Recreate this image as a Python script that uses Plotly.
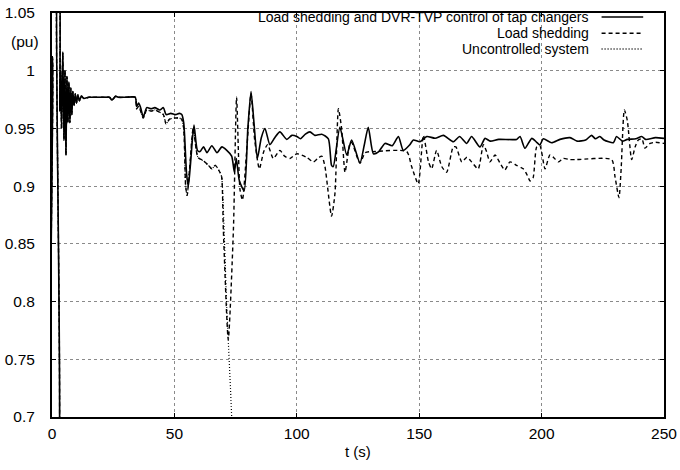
import plotly.graph_objects as go

# ---- data ----
t_early = [0, 0.15, 0.4, 1.9, 2.3, 2.8, 3.2, 3.5, 3.9, 4.4, 4.9, 5.3, 5.7, 6.1, 6.5, 6.9, 7.3,
           7.7, 8.1, 8.5, 9.0, 9.5, 10.0, 10.6, 11.2, 12, 13, 15, 18, 21, 23.5, 24.4, 25.2,
           26, 27, 30, 34.0]
v_early = [1.012, 1.012, 0.62, 0.62, 1.09, 1.09, 0.965, 1.0, 0.95, 1.016, 0.94, 1.0, 0.927,
           0.995, 0.955, 0.99, 0.955, 0.985, 0.962, 0.982, 0.97, 0.98, 0.972, 0.979, 0.974,
           0.978, 0.976, 0.977, 0.977, 0.977, 0.977, 0.9746, 0.976, 0.978, 0.977, 0.977, 0.977]

t_ctrl = [34.6, 35.4, 36.2, 37.3, 38.7, 40.5, 42, 44, 45.5, 46.6, 48.5, 50.5, 52, 53.0,
          53.8, 55, 55.7, 56.6, 58.0, 59.4, 60.5, 61.9, 63.3, 65.3, 67.4, 69.4, 71.4, 73.4,
          74.5, 75.3, 76.5, 78.5, 80, 81.3, 82.5, 83.9, 85.5, 87.0, 89.0, 91, 93.1, 95.9,
          98, 100, 101.5, 103.5, 105.4, 107.4, 110.2, 112.9, 114.2, 114.9, 117.6, 120.4,
          122.4, 125.8, 127.5, 129.2, 131.3, 133.5, 136, 139, 141.5, 143.5, 146.2, 147.6,
          150.3, 153.1, 156.5, 159.9, 164, 166.5, 169.4, 171.4, 174.8, 176.9, 179, 182.5,
          189.8, 191.2, 193.2, 196, 198, 199.3, 200.7, 204.1, 207.5, 211.6, 214.5, 218,
          220.4, 222, 223.8, 225.5, 229.3, 230.6, 233, 235, 238.5, 240.9, 242.5, 246.5, 250]
v_ctrl = [0.969, 0.972, 0.968, 0.960, 0.968, 0.967, 0.968, 0.966, 0.968, 0.962, 0.963,
          0.962, 0.963, 0.962, 0.955, 0.91, 0.900, 0.92, 0.953, 0.931, 0.93, 0.934, 0.929,
          0.935, 0.929, 0.934, 0.931, 0.926, 0.912, 0.924, 0.905, 0.896, 0.95, 0.982, 0.955,
          0.924, 0.942, 0.950, 0.936, 0.942, 0.947, 0.9405, 0.944, 0.943, 0.941, 0.945,
          0.947, 0.944, 0.945, 0.941, 0.918, 0.917, 0.951, 0.927, 0.940, 0.920, 0.935,
          0.951, 0.928, 0.930, 0.937, 0.935, 0.943, 0.931, 0.936, 0.940, 0.9385, 0.943,
          0.9415, 0.944, 0.9385, 0.943, 0.937, 0.943, 0.934, 0.9414, 0.939, 0.9405, 0.9405,
          0.943, 0.9328, 0.9414, 0.938, 0.9357, 0.941, 0.9376, 0.9405, 0.942, 0.939, 0.940,
          0.944, 0.941, 0.943, 0.940, 0.9376, 0.943, 0.939, 0.9405, 0.941, 0.943, 0.9405,
          0.942, 0.9414]

t_shed = [34.6, 35.4, 36.2, 37.3, 38.7, 40.5, 42, 44, 45.5, 46.6, 48, 50, 52, 53.0, 53.8,
          54.6, 55.2, 56.2, 57.7, 59.6, 61.8, 63.9, 65.3, 66.7, 68.6, 69.3, 70.0, 72.0, 74.1,
          75.4, 76.8, 77.8, 79.5, 81.3, 82.8, 84.7, 86.5, 88.1, 90.4, 93.1, 95, 97.2, 100,
          104, 106.8, 108.5, 110.2, 111.5, 114.2, 115.6, 117, 118.3, 119.7, 121.7, 122.4,
          125.8, 128, 131.9, 144.9, 146.9, 149.6, 151.7, 153.8, 155.1, 157.1, 159.2, 161.2,
          163.9, 165, 167.4, 169.5, 171.4, 174.1, 176.2, 177.5, 178.9, 181, 183, 185, 187.1,
          189.8, 192.5, 194, 195.3, 196.5, 198, 199.3, 201.4, 203.4, 205.3, 206.8, 208.9,
          211.6, 214.3, 228.6, 230, 231.6, 232.5, 233.8, 235, 236.8, 238.2, 239.5, 241,
          242.2, 244.3, 246.5, 250]
v_shed = [0.967, 0.969, 0.965, 0.959, 0.966, 0.965, 0.966, 0.964, 0.962, 0.954, 0.958,
          0.959, 0.959, 0.958, 0.95, 0.90, 0.892, 0.915, 0.95, 0.925, 0.922, 0.918, 0.915,
          0.918, 0.912, 0.908, 0.862, 0.767, 0.862, 0.977, 0.897, 0.888, 0.93, 0.98, 0.94,
          0.915, 0.93, 0.936, 0.924, 0.931, 0.926, 0.924, 0.928, 0.925, 0.921, 0.924, 0.926,
          0.917, 0.874, 0.894, 0.967, 0.950, 0.912, 0.937, 0.938, 0.920, 0.929, 0.930, 0.930,
          0.917, 0.902, 0.944, 0.921, 0.915, 0.931, 0.917, 0.912, 0.934, 0.934, 0.921, 0.925,
          0.921, 0.915, 0.936, 0.930, 0.921, 0.927, 0.92, 0.914, 0.921, 0.918, 0.915, 0.91,
          0.9045, 0.907, 0.934, 0.935, 0.915, 0.927, 0.924, 0.921, 0.924, 0.923, 0.923,
          0.923, 0.908, 0.890, 0.915, 0.966, 0.957, 0.923, 0.934, 0.940, 0.941, 0.933,
          0.937, 0.938, 0.937]

t_unc_tail = [70.0, 71.3, 73.4, 74.0]
v_unc_tail = [0.88, 0.80, 0.70, 0.65]

names = ["Load shedding and DVR-TVP control of tap changers", "Load shedding",
         "Uncontrolled system"]
y_ticks = [0.7, 0.75, 0.8, 0.85, 0.9, 0.95, 1.0, 1.05]
y_tick_text = ["0.7", "0.75", "0.8", "0.85", "0.9", "0.95", "1", "1.05"]
x_ticks = [0, 50, 100, 150, 200, 250]

# ---- build series ----
t1 = t_early + t_ctrl
v1 = v_early + v_ctrl
t2 = t_early + t_shed
v2 = v_early + v_shed
n_unc = sum(1 for t in t_shed if t < 70.0)
t3 = t_early + t_shed[:n_unc] + t_unc_tail
v3 = v_early + v_shed[:n_unc] + v_unc_tail

FONT = "Liberation Sans, Arial, Helvetica, sans-serif"
fig = go.Figure()
fig.add_trace(go.Scatter(x=t3, y=v3, mode="lines", name=names[2],
                         line=dict(color="black", width=1.2, dash="1px,2px",
                                   shape="spline", smoothing=0.6)))
fig.add_trace(go.Scatter(x=t2, y=v2, mode="lines", name=names[1],
                         line=dict(color="black", width=1.4, dash="4px,3px",
                                   shape="spline", smoothing=0.6)))
fig.add_trace(go.Scatter(x=t1, y=v1, mode="lines", name=names[0],
                         line=dict(color="black", width=1.6,
                                   shape="spline", smoothing=0.6)))

axis_common = dict(showline=True, linecolor="black", linewidth=2, mirror="allticks",
                   ticks="inside", ticklen=4, tickcolor="black", showgrid=True,
                   gridcolor="#8a8a8a", griddash="dot", gridwidth=1, zeroline=False,
                   automargin=False,
                   tickfont=dict(family=FONT, size=15.5, color="black"))

fig.update_layout(
    template="none",
    width=680, height=470,
    margin=dict(l=52, r=16, t=13, b=53),
    paper_bgcolor="white", plot_bgcolor="white",
    showlegend=False,
    font=dict(family=FONT, size=14, color="black"),
    xaxis=dict(range=[0, 250], tickvals=x_ticks, ticklabelstandoff=1, **axis_common),
    yaxis=dict(range=[0.7, 1.05], tickvals=y_ticks, ticktext=y_tick_text,
               ticklabelstandoff=12, **axis_common),
)

fig.add_annotation(text="t (s)", xref="paper", yref="paper", x=0.5, y=0, yanchor="top",
                   yshift=-24, showarrow=False, font=dict(family=FONT, size=15))
fig.add_annotation(text="(pu)", xref="paper", yref="y", x=0, y=1.025, xanchor="right",
                   xshift=-11, showarrow=False, font=dict(family=FONT, size=15.5))

# opaque key area (hides the grid behind the key, as in the reference)
fig.add_shape(type="rect", xref="paper", yref="paper", x0=0.09, x1=0.995, y0=0.871, y1=1.0,
              layer="between", line=dict(width=0), fillcolor="white")

# gnuplot-style key: text right-aligned, sample line on the right
key_y = [0.990, 0.950, 0.911]
key_dash = ["solid", "4px,3px", "1px,2px"]
for name, ky, dsh in zip(names, key_y, key_dash):
    fig.add_annotation(text=name, xref="paper", yref="paper", x=0.880, y=ky,
                       xanchor="right", yanchor="middle", showarrow=False,
                       font=dict(family=FONT, size=14))
    fig.add_shape(type="line", xref="paper", yref="paper", x0=0.898, x1=0.966,
                  y0=ky, y1=ky, line=dict(color="black", width=1.4, dash=dsh))

fig.write_html("out.html", config={"displayModeBar": False},
               post_script="document.body.style.margin='0';document.body.style.overflow='hidden';")
